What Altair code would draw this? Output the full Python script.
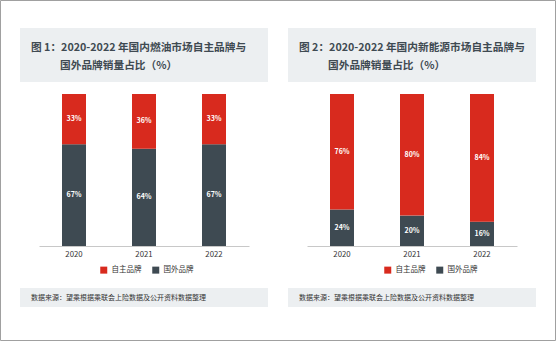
import altair as alt
import pandas as pd

years = ["2020", "2021", "2022"]
brands = ["自主品牌", "国外品牌"]
fuel_own = [33, 36, 33]
fuel_foreign = [67, 64, 67]
nev_own = [76, 80, 84]
nev_foreign = [24, 20, 16]

title_fuel = ["图 1：2020-2022 年国内燃油市场自主品牌与", "国外品牌销量占比（%）"]
title_nev = ["图 2：2020-2022 年国内新能源市场自主品牌与", "国外品牌销量占比（%）"]
source_text = "数据来源：望乘根据乘联会上险数据及公开资料数据整理"

RED = "#d82a1e"
DARK = "#3e4a52"
BOX = "#eceff1"
TXT = "#3f4a52"
FONT = "Noto Sans CJK SC"

W, H = 210, 152


def make_df(own, foreign):
    rows = []
    for y, o, f in zip(years, own, foreign):
        rows.append({"year": y, "brand": brands[1], "value": f, "ord": 0})
        rows.append({"year": y, "brand": brands[0], "value": o, "ord": 1})
    return pd.DataFrame(rows)


def panel(own, foreign, titles, legend_x, frame=False):
    df = make_df(own, foreign)
    base = alt.Chart(df)
    bars = base.mark_bar(size=24).encode(
        x=alt.X("year:N", sort=years, title=None,
                axis=alt.Axis(labelAngle=0, ticks=False, domainColor="#c8c8c8",
                              labelFontSize=7.8, labelColor="#333333", labelPadding=4,
                              labelFont=FONT)),
        y=alt.Y("value:Q", stack="zero", axis=None,
                scale=alt.Scale(domain=[0, 100], nice=False)),
        color=alt.Color("brand:N",
                        scale=alt.Scale(domain=brands, range=[RED, DARK]),
                        legend=alt.Legend(orient="none", legendX=legend_x, legendY=172,
                                          direction="horizontal", title=None,
                                          symbolType="square", symbolSize=49,
                                          symbolStrokeWidth=0, labelFontSize=7.5,
                                          labelFont=FONT, labelColor="#333333",
                                          labelOffset=4, columnPadding=10, padding=0)),
        order=alt.Order("ord:Q"),
    )
    labels = base.transform_stack(
        stack="value", groupby=["year"], as_=["y0", "y1"],
        sort=[alt.SortField("ord", order="ascending")]
    ).transform_calculate(
        mid="(datum.y0 + datum.y1) / 2",
        lab="datum.value + '%'",
    ).mark_text(color="white", fontSize=7, fontWeight="bold", font=FONT,
                baseline="middle").encode(
        x=alt.X("year:N", sort=years),
        y=alt.Y("mid:Q", scale=alt.Scale(domain=[0, 100], nice=False)),
        text="lab:N",
    )
    one = alt.Chart(pd.DataFrame({"t1": [titles[0]], "t2": [titles[1]], "s": [source_text]}))
    title_box = one.mark_rect(color=BOX).encode(
        x=alt.value(-19), x2=alt.value(229), y=alt.value(-66), y2=alt.value(-12))
    t1 = one.mark_text(align="left", baseline="middle", fontSize=10.7, fontWeight="bold",
                       font=FONT, color=TXT).encode(
        x=alt.value(-8), y=alt.value(-46), text="t1:N")
    t2 = one.mark_text(align="left", baseline="middle", fontSize=10.7, fontWeight="bold",
                       font=FONT, color=TXT).encode(
        x=alt.value(21), y=alt.value(-28), text="t2:N")
    src_box = one.mark_rect(color=BOX).encode(
        x=alt.value(-19), x2=alt.value(229), y=alt.value(194), y2=alt.value(213))
    src = one.mark_text(align="left", baseline="middle", fontSize=7, font=FONT,
                        color="#333333").encode(
        x=alt.value(-8), y=alt.value(204), text="s:N")
    layers = [title_box, t1, t2, src_box, src, bars, labels]
    if frame:
        fr = one.mark_rect(fillOpacity=0, stroke="#a0a0a0", strokeWidth=1).encode(
            x=alt.value(-38.5), x2=alt.value(516.5), y=alt.value(-93.5), y2=alt.value(246.5))
        layers = [fr] + layers
    return alt.layer(*layers).properties(width=W, height=H)


left = panel(fuel_own, fuel_foreign, title_fuel, 61, frame=True)
right = panel(nev_own, nev_foreign, title_nev, 77)

chart = alt.hconcat(left, right, spacing=58, bounds="flush").resolve_scale(
    color="independent", x="independent", y="independent"
).properties(padding=0, background="white").configure_view(stroke=None)

chart.save("out.html", embed_options={"renderer": "svg", "actions": False})
